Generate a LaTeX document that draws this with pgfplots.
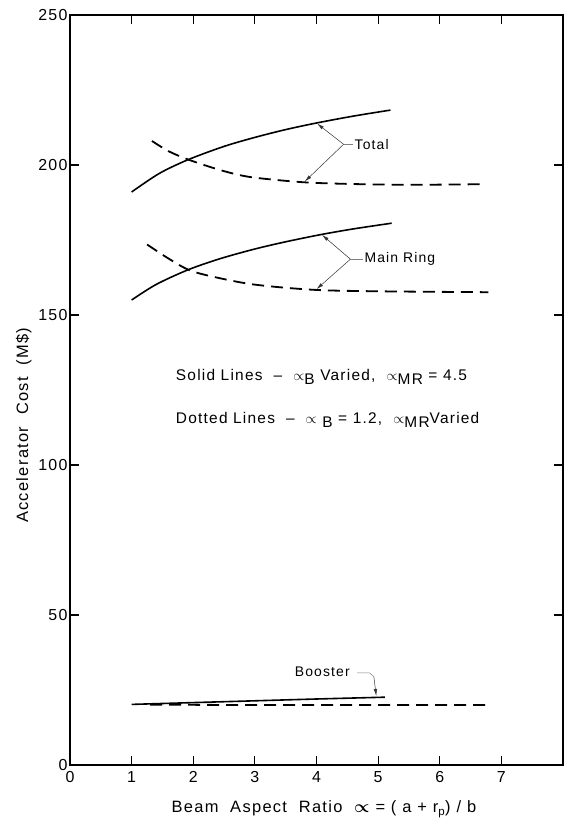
\documentclass[border=0pt]{standalone}
\usepackage{amsmath}
\usepackage{fontspec}
\setmainfont{Liberation Sans}
\newfontfamily\spaced[LetterSpace=8]{Liberation Sans}
\usepackage{pgfplots}
\pgfplotsset{compat=1.18}
\usetikzlibrary{arrows.meta}

\tikzset{
  solidc/.style={black, line width=1.6bp, smooth},
  dashc/.style={black, line width=1.8bp, smooth, dash pattern=on 12bp off 7bp},
  leader/.style={gray, line width=0.5bp},
  tip/.style={-{Latex[length=7bp,width=3.5bp]}, black!80, line width=0.5bp},
  lab/.style={text=black, inner sep=1bp, font=\spaced\fontsize{14}{16}\selectfont},
  ann/.style={text=black, inner sep=1bp, font=\spaced\fontsize{15.5}{17}\selectfont},
}

\pgfplotstableread{
x y
1.00 191.0
1.45 197.2
1.92 201.8
2.50 206.2
3.00 209.2
3.50 211.8
4.00 214.0
4.60 216.3
5.20 218.3
}\totalsolid
\pgfplotstableread{
x y
1.33 208.0
1.60 204.6
1.92 201.8
2.44 198.3
2.92 196.0
3.75 194.3
4.50 193.7
5.50 193.4
6.70 193.6
}\totaldash
\pgfplotstableread{
x y
1.00 155.0
1.40 160.2
1.92 165.1
2.44 168.8
3.00 172.0
3.50 174.4
4.07 176.8
4.60 178.7
5.22 180.6
}\mainsolid
\pgfplotstableread{
x y
1.25 173.5
1.60 168.8
1.92 165.1
2.27 163.0
2.97 160.2
3.95 158.4
5.00 157.9
6.79 157.6
}\maindash
\pgfplotstableread{
x y
1.00 20.2
2.00 20.8
3.00 21.4
4.00 22.0
5.11 22.6
}\boostsolid
\pgfplotstableread{
x y
1.30 20.1
3.00 20.0
5.00 20.0
6.82 20.0
}\boostdash

\begin{document}
\begin{tikzpicture}
\begin{axis}[
  name=ax,
  scale only axis,
  width=493bp, height=750bp,
  xmin=0, xmax=8, ymin=0, ymax=250,
  xtick={0,...,7}, ytick={0,50,...,250},
  tick align=inside,
  major tick length=9bp,
  axis line style={line width=1.2bp},
  tick style={line width=1.2bp, black},
  every tick label/.append style={font=\spaced\fontsize{16}{18}\selectfont},
  yticklabel style={xshift=1bp},
  xticklabel style={yshift=-3bp},
  /pgf/number format/assume math mode=true,
  xlabel={Beam\ \ Aspect\ \ Ratio\ \ $\boldsymbol{\propto}$ = ( a + r\textsubscript{p}) / b},
  ylabel={Accelerator\ \ Cost\ \ (M\$)},
  label style={font=\spaced\fontsize{16.5}{18}\selectfont},
  xlabel style={at={(ticklabel cs:0.515)}, anchor=near ticklabel, yshift=-11bp},
  ylabel style={at={(ticklabel cs:0.453)}, anchor=near ticklabel},
  clip=false,
]
\addplot[solidc] table {\totalsolid};
\addplot[dashc] table {\totaldash};
\addplot[solidc] table {\mainsolid};
\addplot[dashc] table {\maindash};
\addplot[solidc] table {\boostsolid};
\addplot[dashc] table {\boostdash};

% Total leader
\draw[tip] (axis cs:4.44,206.9) -- (axis cs:4.01,213.8);
\draw[tip] (axis cs:4.44,206.9) -- (axis cs:3.81,194.5);
\draw[leader] (axis cs:4.44,206.9) -- (axis cs:4.60,206.9)
  node[anchor=west, lab] {Total};
% Main ring leader
\draw[tip] (axis cs:4.55,168.6) -- (axis cs:4.09,176.7);
\draw[tip] (axis cs:4.55,168.6) -- (axis cs:4.00,158.6);
\draw[leader] (axis cs:4.55,168.6) -- (axis cs:4.76,168.6)
  node[anchor=west, lab] {Main Ring};
% Booster leader
\node[anchor=west, lab] (bl) at (axis cs:3.63,31.1) {Booster};
\draw[leader] (axis cs:4.66,30.7) -- (axis cs:4.86,30.7) -- (axis cs:4.93,29.5);
\draw[tip] (axis cs:4.93,29.5) -- (axis cs:4.97,23.0);

\node[anchor=west, ann] at (axis cs:1.70,129.3)
  {Solid\ Lines\ \ \textendash\ \ $\propto$\raisebox{-0.45ex}{B} Varied,\ \ $\propto$\raisebox{-0.45ex}{MR} = 4.5};
\node[anchor=west, ann] at (axis cs:1.70,115.0)
  {Dotted\ Lines\ \ \textendash\ \ $\propto$ \raisebox{-0.45ex}{B} = 1.2,\ \ $\propto$\raisebox{-0.45ex}{MR}Varied};
\end{axis}
\pgfresetboundingbox
\path ([shift={(-70bp,-53bp)}]ax.south west) rectangle ([shift={(4bp,15bp)}]ax.north east);
\end{tikzpicture}
\end{document}
